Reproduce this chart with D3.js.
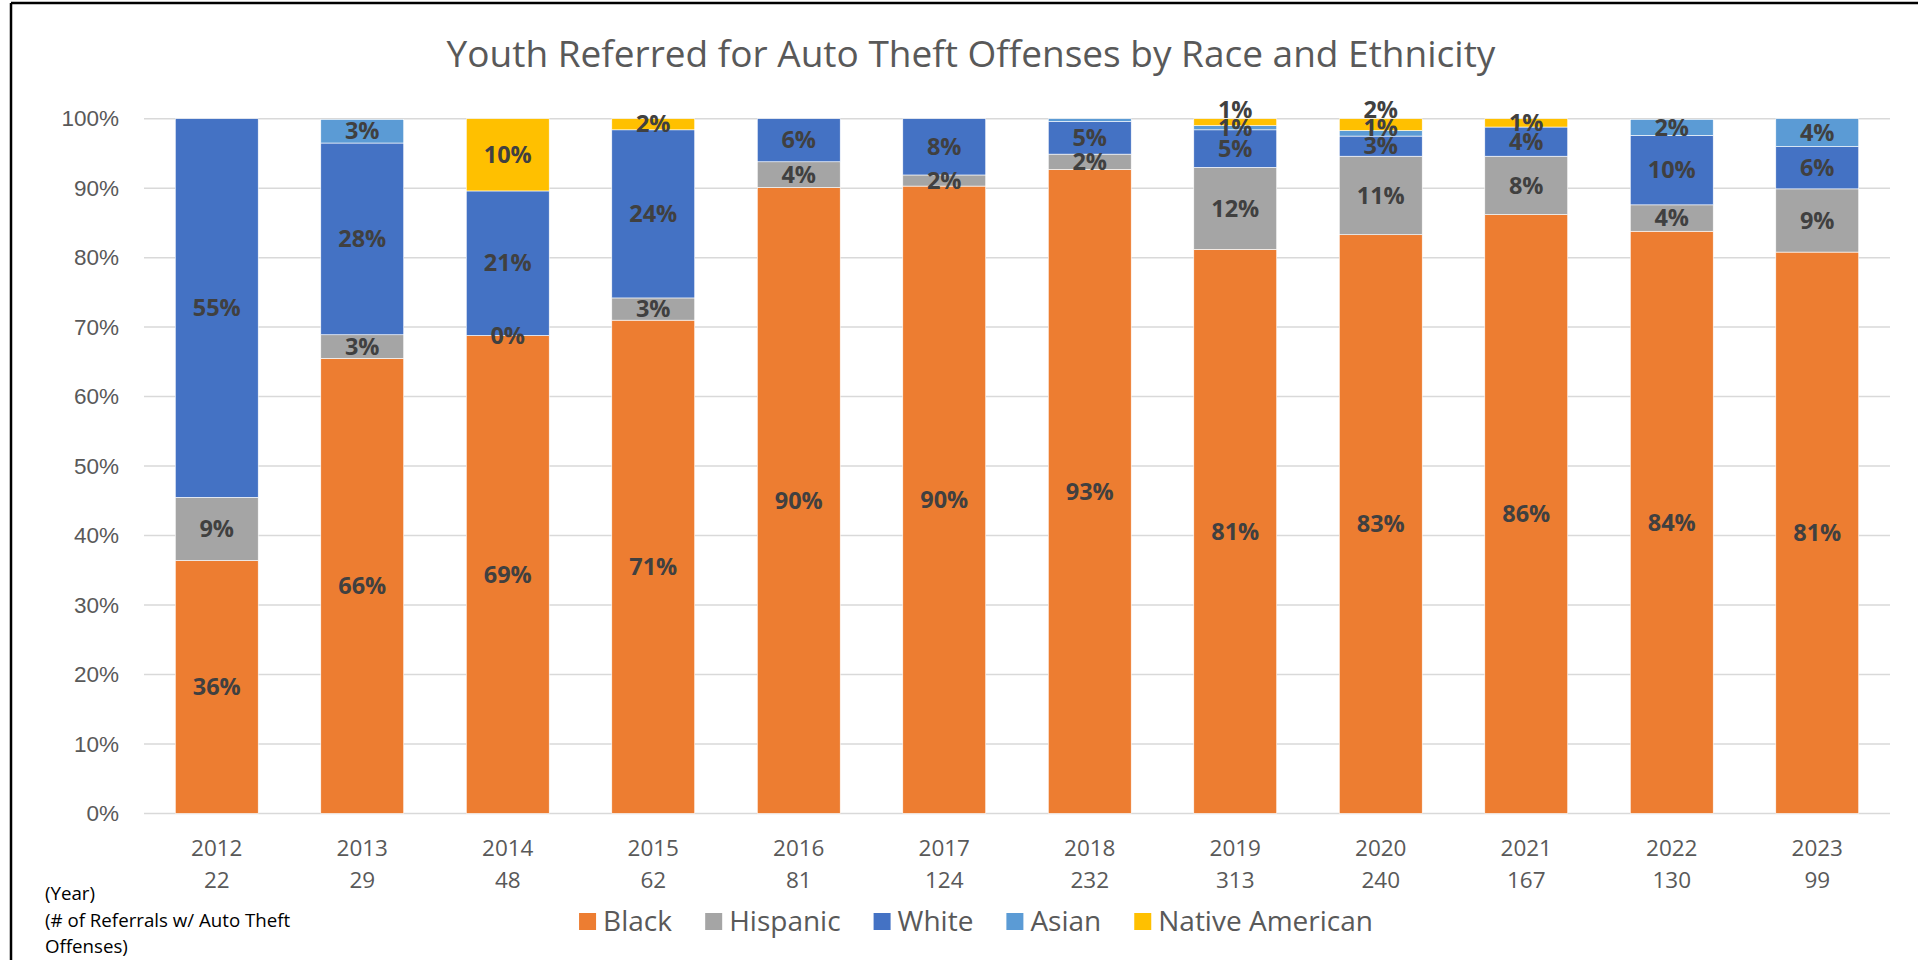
<!DOCTYPE html>
<html>
<head>
<meta charset="utf-8">
<script src="https://cdn.jsdelivr.net/npm/d3@7"></script>
<style>
  body { margin: 0; background: #fff; }
  svg { display: block; font-family: "Open Sans", sans-serif; }
</style>
</head>
<body>
<div id="chart"></div>
<script>
// chart data (percent of referrals per year)
var years = ["2012", "2013", "2014", "2015", "2016", "2017", "2018", "2019", "2020", "2021", "2022", "2023"];
var referrals = ["22", "29", "48", "62", "81", "124", "232", "313", "240", "167", "130", "99"];
var races = ["Black", "Hispanic", "White", "Asian", "Native American"];

var black    = [36.4, 65.5, 68.8, 71.0, 90.1, 90.3, 92.7, 81.2, 83.3, 86.2, 83.8, 80.8];
var hispanic = [9.1, 3.4, 0, 3.2, 3.7, 1.6, 2.2, 11.8, 11.3, 8.4, 3.8, 9.1];
var white    = [54.5, 27.6, 20.8, 24.2, 6.2, 8.1, 4.7, 5.4, 2.9, 4.2, 10.0, 6.1];
var asian    = [0, 3.4, 0, 0, 0, 0, 0.4, 0.6, 0.8, 0, 2.3, 4.0];
var native   = [0, 0, 10.4, 1.6, 0, 0, 0, 1.0, 1.7, 1.2, 0, 0];

var yTicks = [0, 10, 20, 30, 40, 50, 60, 70, 80, 90, 100];
var colors = ["#ED7D31", "#A5A5A5", "#4472C4", "#5B9BD5", "#FFC000"];

// build rows for d3.stack
var seriesValues = [black, hispanic, white, asian, native];
var rows = years.map(function(y, i) {
  var r = { year: y, count: referrals[i] };
  races.forEach(function(k, j) { r[k] = seriesValues[j][i]; });
  return r;
});

var width = 1918, height = 960;
var margin = { left: 144, right: 28, top: 118.7, bottom: 146.6 };

var svg = d3.select("#chart").append("svg")
  .attr("width", width)
  .attr("height", height);

// frame lines at the top and left
svg.append("line").attr("x1", 11).attr("x2", width).attr("y1", 3).attr("y2", 3)
  .attr("stroke", "#000").attr("stroke-width", 2.5);
svg.append("line").attr("x1", 11).attr("x2", 11).attr("y1", 3).attr("y2", height)
  .attr("stroke", "#000").attr("stroke-width", 2.5);

var x = d3.scaleBand()
  .domain(years)
  .range([margin.left, width - margin.right])
  .paddingInner(0.43)
  .paddingOuter(0.215);

var y = d3.scaleLinear()
  .domain([0, 100])
  .range([height - margin.bottom, margin.top]);

var color = d3.scaleOrdinal().domain(races).range(colors);

// title
svg.append("text")
  .attr("x", 971)
  .attr("y", 67)
  .attr("text-anchor", "middle")
  .attr("fill", "#595959")
  .style("font-size", "37px")
  .text("Youth Referred for Auto Theft Offenses by Race and Ethnicity");

// gridlines
svg.append("g")
  .selectAll("line")
  .data(yTicks)
  .enter().append("line")
  .attr("x1", margin.left)
  .attr("x2", width - margin.right)
  .attr("y1", function(d) { return y(d); })
  .attr("y2", function(d) { return y(d); })
  .attr("stroke", "#D9D9D9")
  .attr("stroke-width", 1.5);

// y axis labels
var yAxis = d3.axisLeft(y)
  .tickValues(yTicks)
  .tickSize(0)
  .tickPadding(0)
  .tickFormat(function(d) { return d + "%"; });

svg.append("g")
  .attr("transform", "translate(119,0)")
  .call(yAxis)
  .call(function(g) { g.select(".domain").remove(); })
  .selectAll("text")
  .attr("fill", "#595959")
  .style("font-family", "inherit")
  .style("font-size", "22.5px");

// stacked bars
var stack = d3.stack().keys(races);
var layers = stack(rows);

var groups = svg.append("g")
  .selectAll("g")
  .data(layers)
  .enter().append("g")
  .attr("fill", function(d) { return color(d.key); });

groups.selectAll("rect")
  .data(function(d) { return d; })
  .enter().append("rect")
  .attr("x", function(d) { return x(d.data.year); })
  .attr("width", x.bandwidth())
  .attr("y", function(d) { return y(d[1]); })
  .attr("height", function(d) { return y(d[0]) - y(d[1]); })
  .attr("stroke", "#fff")
  .attr("stroke-width", 0.6);

// data labels, nudged upward when they crowd the one below
var labels = [];
years.forEach(function(yr, i) {
  var prev = null;
  layers.forEach(function(layer) {
    var d = layer[i];
    var v = d[1] - d[0];
    var hasValue = layer.key === "Hispanic" ? (i < 4 || v > 0) : v >= 0.5;
    if (!hasValue) return;
    var cy = y((d[0] + d[1]) / 2);
    if (prev !== null && prev - cy < 18) cy = prev - 18;
    prev = cy;
    labels.push({ x: x(yr) + x.bandwidth() / 2, y: cy, text: Math.round(v) + "%" });
  });
});

svg.append("g")
  .selectAll("text")
  .data(labels)
  .enter().append("text")
  .attr("x", function(d) { return d.x; })
  .attr("y", function(d) { return d.y; })
  .attr("dy", "0.35em")
  .attr("text-anchor", "middle")
  .attr("fill", "#404040")
  .style("font-weight", "bold")
  .style("font-size", "23.5px")
  .text(function(d) { return d.text; });

// x axis labels: year and referral count
var xl = svg.append("g");
xl.selectAll(".yr")
  .data(rows)
  .enter().append("text")
  .attr("x", function(d) { return x(d.year) + x.bandwidth() / 2; })
  .attr("y", 856)
  .attr("text-anchor", "middle")
  .attr("fill", "#595959")
  .style("font-size", "22.5px")
  .text(function(d) { return d.year; });
xl.selectAll(".ct")
  .data(rows)
  .enter().append("text")
  .attr("x", function(d) { return x(d.year) + x.bandwidth() / 2; })
  .attr("y", 888)
  .attr("text-anchor", "middle")
  .attr("fill", "#595959")
  .style("font-size", "22.5px")
  .text(function(d) { return d.count; });

// axis note bottom left
var note = ["(Year)", "(# of Referrals w/ Auto Theft", "Offenses)"];
svg.append("g")
  .selectAll("text")
  .data(note)
  .enter().append("text")
  .attr("x", 45)
  .attr("y", function(d, i) { return 900 + i * 26.5; })
  .attr("fill", "#000")
  .style("font-size", "18.7px")
  .text(function(d) { return d; });

// legend
var legend = svg.append("g");
var items = legend.selectAll("g")
  .data(races)
  .enter().append("g");
items.append("rect")
  .attr("width", 17)
  .attr("height", 17)
  .attr("y", -18)
  .attr("fill", function(d) { return color(d); });
items.append("text")
  .attr("x", 24)
  .attr("y", 0)
  .attr("fill", "#595959")
  .style("font-size", "28px")
  .text(function(d) { return d; });

var gap = 33;
var pos = 0;
items.each(function() {
  var w = this.getBBox().width;
  d3.select(this).attr("transform", "translate(" + pos + ",931)");
  pos += w + gap;
});
var total = pos - gap;
legend.attr("transform", "translate(" + (976 - total / 2) + ",0)");
</script>
</body>
</html>
